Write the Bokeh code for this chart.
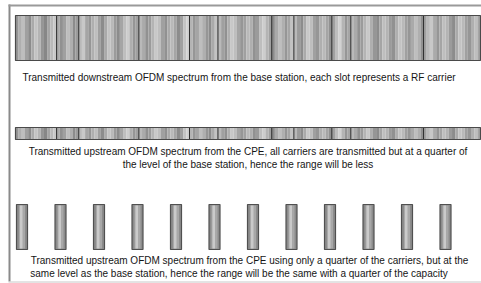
from bokeh.plotting import figure
from bokeh.models import Range1d, ColumnDataSource
from bokeh.core.properties import value
from bokeh.embed import file_html
from bokeh.resources import INLINE

# ---- data -----------------------------------------------------------------
# grey level of each thin spectral stripe across the OFDM band (0-255)
carrier_shades = [
    150, 175, 190, 160, 140, 170, 195, 180, 150, 135, 165, 185, 200, 170,
    145, 160, 190, 175, 140, 155, 185, 200, 165, 150, 175, 190, 160, 140,
    170, 195, 185, 155, 140, 165, 190, 205, 175, 150, 160, 185, 170, 145,
    155, 180, 200, 190, 160, 145, 170, 185, 165, 140, 160, 195, 210, 180,
    150, 165, 190, 175, 150, 140, 170, 195, 185, 160, 145, 175, 200, 190,
    165, 150, 160, 185, 175, 145, 155, 190, 205, 180, 160, 140, 170, 190,
    175, 150, 165, 195, 185, 155, 140, 170, 200, 190, 160, 150, 175, 185,
    165, 145, 160, 190, 210, 180, 150, 165, 185, 170, 145, 155, 180, 200,
    175, 150, 140, 165, 190, 180, 155, 145, 175, 195, 185, 160, 150, 170,
    190, 175, 145, 160, 185, 200, 170, 150, 165, 190, 180, 155, 140, 170,
    195, 185, 160, 150, 175, 190, 165,
]
# positions (in stripe units across the band) of the darker slot dividers
slot_dividers = [13, 20, 39, 55, 64, 81, 88, 100, 106, 129, 148]
# carriers kept in the quarter-carrier upstream case (index of carrier group)
kept_carriers = [0, 1, 2, 3, 4, 5, 6, 7, 8, 9, 10, 11]

captions = [
    "Transmitted downstream OFDM spectrum from the base station, each slot represents a RF carrier",
    "Transmitted upstream OFDM spectrum from the CPE, all carriers are transmitted but at a quarter of",
    "the level of the base station, hence the range will be less",
    "Transmitted upstream OFDM spectrum from the CPE using only a quarter of the carriers, but at the",
    "same level as the base station, hence the range will be the same with a quarter of the capacity",
]

# ---- layout (coordinates = picture pixels) ----------------------------------
BAND_X0, BAND_X1 = 15.0, 480.0
TOP_Y = (15.0, 60.0)
MID_Y = (127.0, 139.0)
BAR_Y = (204.0, 249.0)
BAR_X0, BAR_STEP, BAR_W = 16.0, 38.5, 11.0
caption_x = [238.5, 247.5, 247.5, 249.0, 238.5]
caption_y = [77.0, 151.0, 163.5, 260.0, 272.5]

p = figure(width=481, height=283, x_range=Range1d(0, 481), y_range=Range1d(283, 0),
           output_backend="svg", toolbar_location=None, min_border=0)
p.axis.visible = False
p.grid.visible = False
p.outline_line_color = None
p.background_fill_color = "white"
p.border_fill_color = "white"

# frame
p.segment(x0=[9], y0=[4], x1=[9], y1=[281], line_color="#8a8a8a", line_width=2)
p.segment(x0=[8], y0=[5], x1=[481], y1=[5], line_color="#9a9a9a", line_width=2)
p.segment(x0=[8], y0=[281.5], x1=[481], y1=[281.5], line_color="#c8c8c8", line_width=1)

n = len(carrier_shades)
sw = (BAND_X1 - BAND_X0) / n
lefts = [BAND_X0 + i * sw for i in range(n)]
rights = [l + sw for l in lefts]
colors = ["#%02x%02x%02x" % (s, s, s) for s in carrier_shades]
div_x = [BAND_X0 + d * sw for d in slot_dividers]

for (y0, y1) in (TOP_Y, MID_Y):
    src = ColumnDataSource(dict(left=lefts, right=rights, c=colors,
                                bottom=[y1] * n, top=[y0] * n))
    p.quad(left="left", right="right", bottom="bottom", top="top", fill_color="c",
           line_color=None, source=src)
    p.segment(x0=div_x, y0=[y0] * len(div_x), x1=div_x, y1=[y1] * len(div_x),
              line_color="#2a2a2a", line_width=1)
    p.quad(left=[BAND_X0], right=[BAND_X1], bottom=[y1], top=[y0], fill_color=None,
           line_color="#4a4a4a", line_width=1.2)

# quarter-carrier bars
bx = [BAR_X0 + k * BAR_STEP for k in kept_carriers]
m = len(bx)
p.quad(left=bx, right=[x + BAR_W for x in bx], bottom=[BAR_Y[1]] * m, top=[BAR_Y[0]] * m,
       fill_color="#8c8c8c", line_color="#505050", line_width=1.2)
p.quad(left=[x + 2.5 for x in bx], right=[x + 8.5 for x in bx], bottom=[BAR_Y[1] - 1] * m,
       top=[BAR_Y[0] + 1] * m, fill_color="#a8a8a8", line_color=None)
p.quad(left=[x + 3.5 for x in bx], right=[x + 6 for x in bx], bottom=[BAR_Y[1] - 1] * m,
       top=[BAR_Y[0] + 1] * m, fill_color="#cacaca", line_color=None)

p.text(x=caption_x, y=caption_y, text=captions, text_font=value("Liberation Sans"),
       text_font_size="10px", text_color="#151515", text_align="center",
       text_baseline="middle")

open("out.html", "w").write(file_html(p, INLINE))
